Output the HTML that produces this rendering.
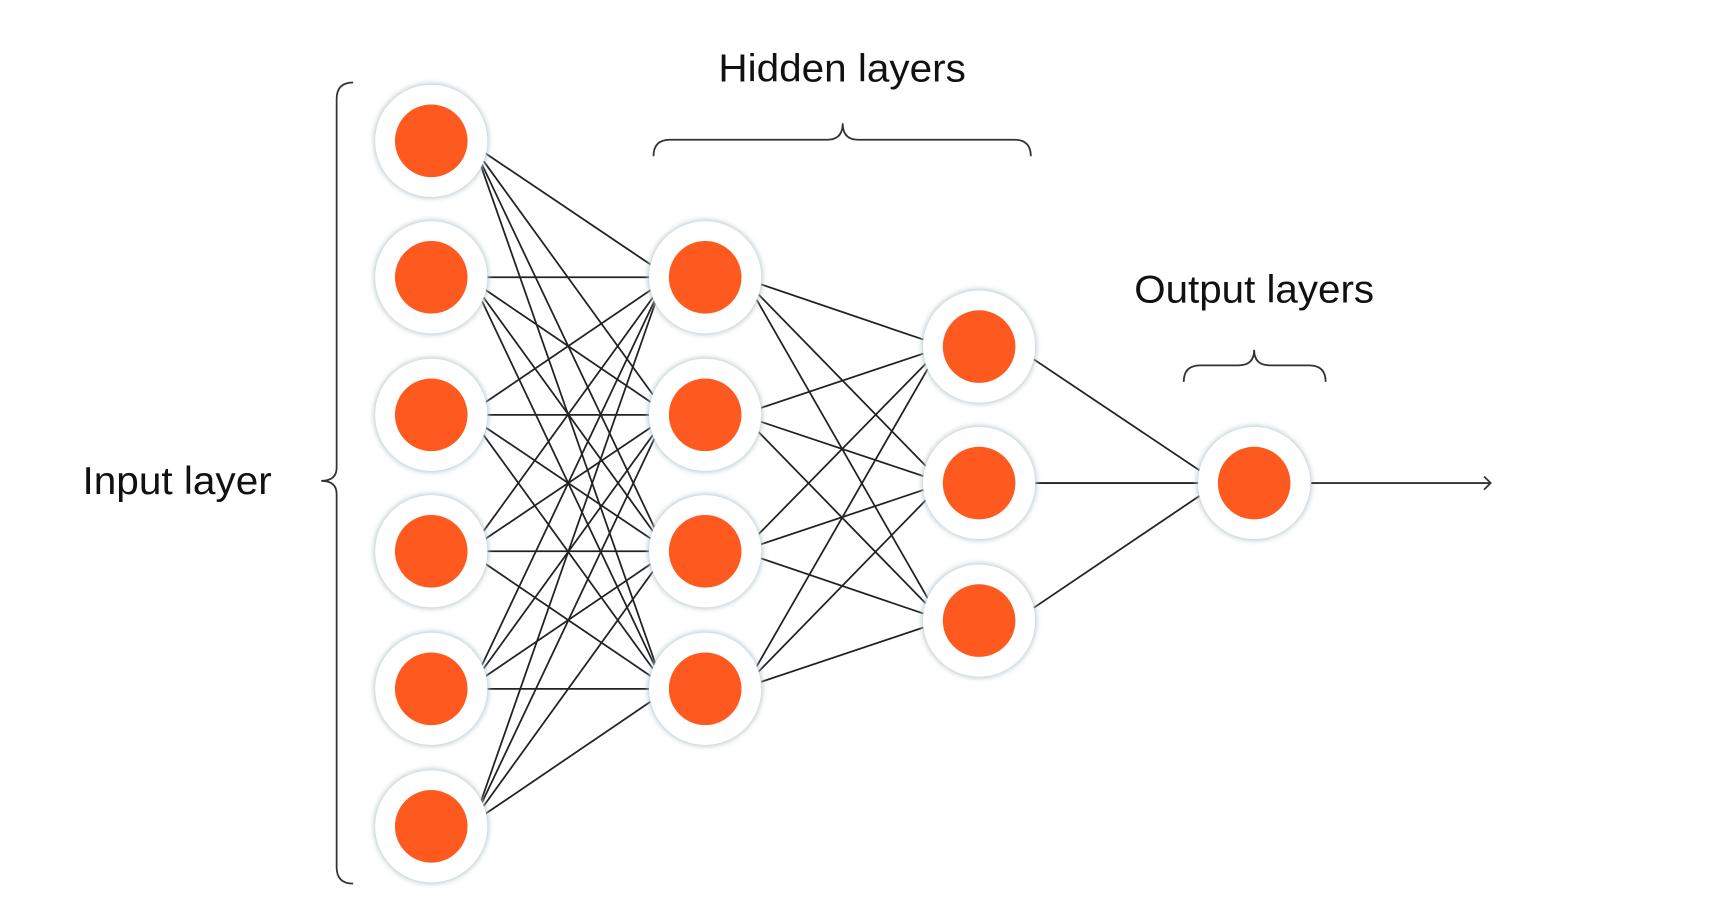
<!DOCTYPE html>
<html><head><meta charset="utf-8"><style>
html,body{margin:0;padding:0;background:#fff;}
svg{display:block;}
text{font-family:"Liberation Sans",sans-serif;fill:#111;}
</style></head><body>
<svg width="1725" height="910" viewBox="0 0 1568 827" preserveAspectRatio="none" xmlns="http://www.w3.org/2000/svg">
<defs>
<filter id="sh" x="-30%" y="-30%" width="160%" height="160%">
<feGaussianBlur stdDeviation="2.5"/>
</filter>
</defs>
<g id="lines" stroke="#222" stroke-width="1.6" fill="none"></g>
<g id="nodes"></g>
<g stroke="#333" stroke-width="1.6" fill="none">
<path d="M321 75 Q306 75 306 90 L306 425 Q306 437 292 437 Q306 437 306 449 L306 788 Q306 803 321 803"/>
<path d="M594 142 Q594 127 609 127 L752 127 Q766 127 766 112 Q766 127 780 127 L922 127 Q937 127 937 142"/>
<path d="M1076 347 Q1076 332 1091 332 L1126 332 Q1140 332 1140 318 Q1140 332 1154 332 L1190 332 Q1205 332 1205 347"/>
<path d="M1192 439 L1355 439 M1349 433 L1355 439 L1349 445"/>
</g>
<text x="75" y="449" font-size="35" textLength="172" lengthAdjust="spacingAndGlyphs">Input layer</text>
<text x="653" y="74" font-size="35" textLength="225" lengthAdjust="spacingAndGlyphs">Hidden layers</text>
<text x="1031" y="275" font-size="35" textLength="218" lengthAdjust="spacingAndGlyphs">Output layers</text>
<script>
var L=[[392,[128,252,377,501,626,751]],[641,[252,377,501,626]],[890,[315,439,564]],[1140,[439]]];
var ns="http://www.w3.org/2000/svg",lg=document.getElementById("lines"),ng=document.getElementById("nodes");
function el(t,a,p){var e=document.createElementNS(ns,t);for(var k in a)e.setAttribute(k,a[k]);p.appendChild(e);return e;}
for(var i=0;i<3;i++){var A=L[i],B=L[i+1];A[1].forEach(function(y1){B[1].forEach(function(y2){
var dx=B[0]-A[0],dy=y2-y1,d=Math.sqrt(dx*dx+dy*dy),s=dy/d*26,c=Math.sqrt(51*51-s*s);
el("line",{x1:A[0]+c,y1:y1+s,x2:B[0]-c,y2:y2-s},lg);});});}
L.forEach(function(l){l[1].forEach(function(y){
el("circle",{cx:l[0],cy:y,r:52,fill:"#b8c6cf",filter:"url(#sh)"},ng);
el("circle",{cx:l[0],cy:y,r:51,fill:"#fff"},ng);
el("circle",{cx:l[0],cy:y,r:33,fill:"#fe5a20"},ng);});});
</script>
</svg>
</body></html>
